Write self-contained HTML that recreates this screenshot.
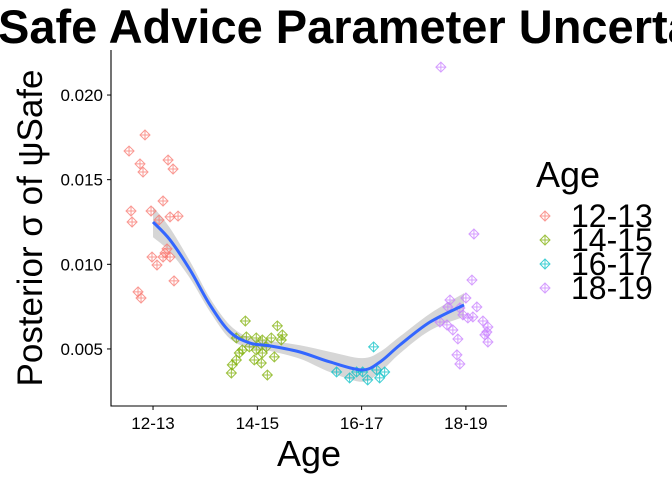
<!DOCTYPE html>
<html><head><meta charset="utf-8"><style>
html,body{margin:0;padding:0;background:#fff;overflow:hidden;}
svg{display:block;font-family:"Liberation Sans","DejaVu Sans",sans-serif;}
</style></head><body>
<svg id="chart" width="672" height="480" viewBox="0 0 672 480">
<text x="-2" y="43" font-size="47" font-weight="bold">Safe Advice Parameter Uncertainty</text>
<g id="plot"></g>
<text transform="translate(42,228) rotate(-90)" text-anchor="middle" font-size="35">Posterior σ of ψSafe</text>
<text x="309" y="466" text-anchor="middle" font-size="36">Age</text>
<g id="legend">
<text x="536" y="187" font-size="36">Age</text>
</g>
</svg>
<script>
const categories=["12-13","14-15","16-17","18-19"];
const colors=["#F8766D","#7CAE00","#00BFC4","#C77CFF"];
const yTicks=[0.005,0.010,0.015,0.020];
const yTickLabels=["0.005","0.010","0.015","0.020"];
const pts1213=[[-0.077,0.01764],[-0.230,0.01669],[-0.125,0.01593],[-0.096,0.01545],[0.144,0.01616],[0.192,0.01563],[0.096,0.01374],[-0.211,0.01315],[-0.201,0.01250],[-0.019,0.01315],[0.058,0.01262],[0.163,0.01280],[0.240,0.01285],[-0.010,0.01043],[0.038,0.00996],[0.115,0.01067],[0.134,0.01091],[0.096,0.01043],[0.163,0.01043],[0.201,0.00902],[-0.144,0.00837],[-0.115,0.00801]];
const pts1415=[[0.885,0.00665],[1.192,0.00636],[1.240,0.00583],[0.799,0.00565],[0.895,0.00571],[0.990,0.00565],[1.048,0.00553],[1.134,0.00565],[1.230,0.00553],[0.856,0.00494],[0.827,0.00476],[0.990,0.00494],[1.048,0.00476],[1.163,0.00453],[0.799,0.00435],[0.760,0.00406],[0.751,0.00358],[0.971,0.00435],[1.038,0.00417],[1.096,0.00346],[0.923,0.00512],[1.086,0.00512]];
const pts1617=[[2.115,0.00512],[1.760,0.00364],[1.885,0.00329],[1.952,0.00364],[2.010,0.00364],[2.058,0.00317],[2.144,0.00376],[2.173,0.00329],[2.221,0.00364]];
const pts1819=[[2.760,0.02165],[3.077,0.01179],[3.058,0.00907],[2.847,0.00789],[3.000,0.00801],[2.827,0.00748],[2.942,0.00742],[3.105,0.00748],[2.971,0.00701],[3.067,0.00689],[3.019,0.00683],[2.751,0.00659],[2.818,0.00642],[2.875,0.00612],[3.163,0.00665],[3.211,0.00630],[3.201,0.00600],[3.182,0.00583],[3.211,0.00541],[2.923,0.00559],[2.914,0.00465],[2.942,0.00411]];
const smoothX=[0,0.163,0.355,0.546,0.738,0.930,1.122,1.409,1.697,2.003,2.176,2.368,2.656,2.982];
const smoothY=[0.01250,0.01144,0.00967,0.00760,0.00600,0.00535,0.00518,0.00482,0.00423,0.00376,0.00423,0.00524,0.00659,0.00760];
const smoothSE=[0.0009,0.0007,0.0005,0.0004,0.0004,0.0003,0.0003,0.0004,0.0006,0.0007,0.0006,0.0005,0.0005,0.0007];

const NS="http://www.w3.org/2000/svg";
const L=111,R=507,T=50,B=406;
const xMin=-0.403,xMax=3.394,yMin=0.00163,yMax=0.02266;
function xs(v){return L+(v-xMin)/(xMax-xMin)*(R-L);}
function ys(v){return B-(v-yMin)/(yMax-yMin)*(B-T);}
const plot=document.getElementById('plot');
function mk(tag,attrs,parent){const e=document.createElementNS(NS,tag);for(const k in attrs)e.setAttribute(k,attrs[k]);(parent||plot).appendChild(e);return e;}
function crPath(p,move){
  let d=(move?"M":"L")+p[0][0]+","+p[0][1];
  for(let i=0;i<p.length-1;i++){
    const p0=p[Math.max(i-1,0)],p1=p[i],p2=p[i+1],p3=p[Math.min(i+2,p.length-1)];
    const c1=[p1[0]+(p2[0]-p0[0])/6,p1[1]+(p2[1]-p0[1])/6];
    const c2=[p2[0]-(p3[0]-p1[0])/6,p2[1]-(p3[1]-p1[1])/6];
    d+=`C${c1[0]},${c1[1]} ${c2[0]},${c2[1]} ${p2[0]},${p2[1]}`;
  }
  return d;
}
const upP=smoothX.map((x,i)=>[xs(x),ys(smoothY[i]+smoothSE[i])]);
const loP=smoothX.map((x,i)=>[xs(x),ys(smoothY[i]-smoothSE[i])]).reverse();
const band=mk('path',{d:crPath(upP,true)+crPath(loP,false)+"Z",fill:'#999',opacity:'0.4'});



function diamond(cx,cy,col,parent){
  const g=mk('g',{},parent);
  const s=5;
  mk('path',{d:`M${cx},${cy-s}L${cx+s},${cy}L${cx},${cy+s}L${cx-s},${cy}Z M${cx-s},${cy}H${cx+s} M${cx},${cy-s}V${cy+s}`,fill:'none',stroke:col,'stroke-width':'1','stroke-opacity':'0.75'},g);
  return g;
}
const groups=[pts1213,pts1415,pts1617,pts1819];
groups.forEach((arr,gi)=>{
  arr.forEach(p=>{
    const d=diamond(xs(p[0]),ys(p[1]),colors[gi]);
    
    
  });
});
const line=mk('path',{d:crPath(smoothX.map((x,i)=>[xs(x),ys(smoothY[i])]),true),fill:'none',stroke:'#3366FF','stroke-width':'3','stroke-linejoin':'round'});



const ax=mk('path',{d:`M${L},${T}V${B}H${R}`,fill:'none',stroke:'#000','stroke-width':'1.1'});


yTicks.forEach((v,i)=>{
  const y=ys(v);
  mk('line',{x1:L-4,x2:L,y1:y,y2:y,stroke:'#000'});
  const t=mk('text',{x:L-8,y:y+6,'text-anchor':'end','font-size':'17'});
  t.textContent=yTickLabels[i];
  
  
});
categories.forEach((c,i)=>{
  const x=xs(i);
  mk('line',{x1:x,x2:x,y1:B,y2:B+4,stroke:'#000'});
  const t=mk('text',{x:x,y:B+23,'text-anchor':'middle','font-size':'17'});
  t.textContent=c;
  
  
});
const lg=document.getElementById('legend');
categories.forEach((c,i)=>{
  const y=216+i*24;
  const g=mk('g',{},lg);
  
  
  diamond(545,y,colors[i],g);
  const t=mk('text',{x:571,y:y+11,'font-size':'32'},g);
  t.textContent=c;
});
</script>
</body></html>
